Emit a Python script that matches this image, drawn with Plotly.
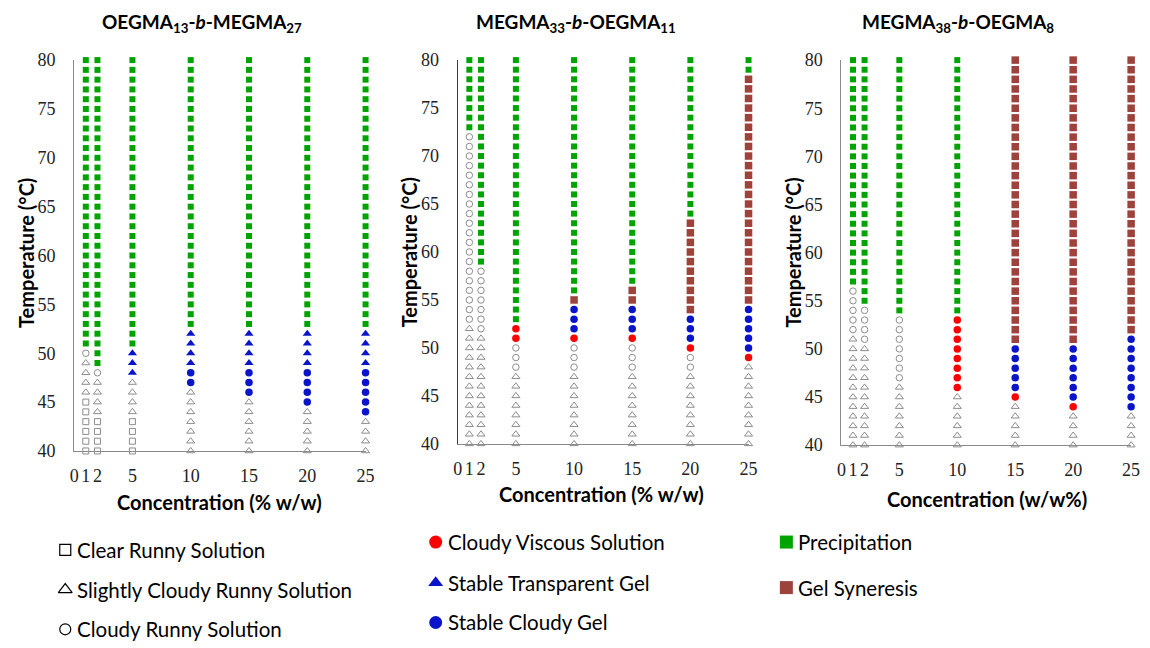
import plotly.graph_objects as go

# ---------------- data ----------------
concentrations = [1, 2, 5, 10, 15, 20, 25]
x_tick_vals = [0, 1, 2, 5, 10, 15, 20, 25]
x_tick_text = ["0", "1", "2", "5", "10", "15", "20", "25"]
y_tick_vals = [40, 45, 50, 55, 60, 65, 70, 75, 80]

panel_titles = [
    "OEGMA<sub>13</sub>-<i>b</i>-MEGMA<sub>27</sub>",
    "MEGMA<sub>33</sub>-<i>b</i>-OEGMA<sub>11</sub>",
    "MEGMA<sub>38</sub>-<i>b</i>-OEGMA<sub>8</sub>",
]
x_titles = ["Concentration (% w/w)", "Concentration (% w/w)", "Concentration (w/w%)"]
y_title = "Temperature (°C)"

# (concentration, state, lowest °C, highest °C) observed at every 1 °C step
p1_segments = [
    (1, "clear", 40, 45), (1, "slight", 46, 49), (1, "cloudy", 50, 50), (1, "precip", 51, 80),
    (2, "clear", 40, 43), (2, "slight", 44, 47), (2, "cloudy", 48, 48), (2, "precip", 49, 80),
    (5, "clear", 40, 43), (5, "slight", 44, 47), (5, "tgel", 48, 50), (5, "precip", 51, 80),
    (10, "slight", 40, 46), (10, "cgel", 47, 48), (10, "tgel", 49, 52), (10, "precip", 53, 80),
    (15, "slight", 40, 45), (15, "cgel", 46, 48), (15, "tgel", 49, 52), (15, "precip", 53, 80),
    (20, "slight", 40, 44), (20, "cgel", 45, 48), (20, "tgel", 49, 52), (20, "precip", 53, 80),
    (25, "slight", 40, 43), (25, "cgel", 44, 48), (25, "tgel", 49, 52), (25, "precip", 53, 80),
]
p2_segments = [
    (1, "slight", 40, 52), (1, "cloudy", 53, 72), (1, "precip", 73, 80),
    (2, "slight", 40, 51), (2, "cloudy", 52, 58), (2, "precip", 59, 80),
    (5, "slight", 40, 47), (5, "cloudy", 48, 50), (5, "viscous", 51, 52), (5, "precip", 53, 80),
    (10, "slight", 40, 47), (10, "cloudy", 48, 50), (10, "viscous", 51, 51), (10, "cgel", 52, 54),
    (10, "syn", 55, 55), (10, "precip", 56, 80),
    (15, "slight", 40, 47), (15, "cloudy", 48, 50), (15, "viscous", 51, 51), (15, "cgel", 52, 54),
    (15, "syn", 55, 56), (15, "precip", 57, 80),
    (20, "slight", 40, 47), (20, "cloudy", 48, 49), (20, "viscous", 50, 50), (20, "cgel", 51, 53),
    (20, "syn", 54, 63), (20, "precip", 64, 80),
    (25, "slight", 40, 48), (25, "viscous", 49, 49), (25, "cgel", 50, 54), (25, "syn", 55, 78),
    (25, "precip", 79, 80),
]
p3_segments = [
    (1, "slight", 40, 51), (1, "cloudy", 52, 56), (1, "precip", 57, 80),
    (2, "slight", 40, 50), (2, "cloudy", 51, 54), (2, "precip", 55, 80),
    (5, "slight", 40, 46), (5, "cloudy", 47, 53), (5, "precip", 54, 80),
    (10, "slight", 40, 45), (10, "viscous", 46, 53), (10, "precip", 54, 80),
    (15, "slight", 40, 44), (15, "viscous", 45, 45), (15, "cgel", 46, 50), (15, "syn", 51, 80),
    (20, "slight", 40, 43), (20, "viscous", 44, 44), (20, "cgel", 45, 50), (20, "syn", 51, 80),
    (25, "slight", 40, 43), (25, "cgel", 44, 51), (25, "syn", 52, 80),
]

state_order = ["clear", "slight", "cloudy", "viscous", "tgel", "cgel", "precip", "syn"]
state_labels = {
    "clear": "Clear Runny Solution",
    "slight": "Slightly Cloudy Runny Solution",
    "cloudy": "Cloudy Runny Solution",
    "viscous": "Cloudy Viscous Solution",
    "tgel": "Stable Transparent Gel",
    "cgel": "Stable Cloudy Gel",
    "precip": "Precipitation",
    "syn": "Gel Syneresis",
}

# ---------------- styles ----------------
GREY = "#8c8c8c"
styles = {
    "clear": dict(symbol="square-open", size=6, color=GREY, line=dict(width=1, color=GREY)),
    "slight": dict(symbol="triangle-up-open", size=7, color=GREY, line=dict(width=1, color=GREY)),
    "cloudy": dict(symbol="circle-open", size=6.5, color=GREY, line=dict(width=1, color=GREY)),
    "viscous": dict(symbol="circle", size=7.5, color="#ff0000", line=dict(width=0)),
    "tgel": dict(symbol="triangle-up", size=8, color="#0a14c8", line=dict(width=0)),
    "cgel": dict(symbol="circle", size=7.5, color="#0a14c8", line=dict(width=0)),
    "precip": dict(symbol="square", size=6, color="#00a400", line=dict(width=0)),
    "syn": dict(symbol="square", size=7.5, color="#9e423c", line=dict(width=0)),
}

fig = go.Figure()

all_segments = [p1_segments, p2_segments, p3_segments]
for pi, segs in enumerate(all_segments):
    xa = "x" if pi == 0 else f"x{pi+1}"
    ya = "y" if pi == 0 else f"y{pi+1}"
    for st in state_order:
        xs, ys = [], []
        for (c, s, lo, hi) in segs:
            if s == st:
                for t in range(lo, hi + 1):
                    xs.append(c)
                    ys.append(t)
        if xs:
            fig.add_trace(go.Scatter(
                x=xs, y=ys, mode="markers", xaxis=xa, yaxis=ya,
                marker=styles[st], cliponaxis=False, showlegend=False,
                name=state_labels[st], hoverinfo="x+y+name"))

W, H = 1150, 648
# plot-area pixel boxes (left, right, top, bottom)
boxes = [(70, 365, 51.7, 455), (458.3, 752.7, 51.7, 447.7), (846.7, 1140, 51.7, 449)]
yline_colors = ["#8a8a8a", "#3c3c3c", "#8a8a8a"]

tick_font = dict(family="Liberation Serif, Times New Roman, serif", size=18, color="#222222")
layout = dict(width=W, height=H, margin=dict(l=0, r=0, t=0, b=0),
              plot_bgcolor="rgba(0,0,0,0)", paper_bgcolor="white", showlegend=False)
for i, (l, r, t, b) in enumerate(boxes):
    sx = "" if i == 0 else str(i + 1)
    layout["xaxis" + sx] = dict(
        domain=[l / W, r / W], range=[0, 25], anchor="y" + sx,
        tickvals=x_tick_vals, ticktext=x_tick_text, showgrid=False, zeroline=False,
        showline=True, linecolor="#8a8a8a", linewidth=1.3, ticks="",
        tickfont=tick_font, ticklabelstandoff=8, fixedrange=True)
    layout["yaxis" + sx] = dict(
        domain=[1 - b / H, 1 - t / H], range=[40, 80], anchor="x" + sx,
        tickvals=y_tick_vals, showgrid=False, zeroline=False,
        showline=True, linecolor=yline_colors[i], linewidth=1.3, ticks="",
        tickfont=tick_font, ticklabelstandoff=14, fixedrange=True)

# hidden overlay axis in pixel units for the legend symbols
layout["xaxis4"] = dict(domain=[0, 1], range=[0, W], visible=False, anchor="y4", fixedrange=True)
layout["yaxis4"] = dict(domain=[0, 1], range=[H, 0], visible=False, anchor="x4", fixedrange=True)
fig.update_layout(**layout)

TXT = "Lato, Open Sans, sans-serif"
annotations = []
title_x = [199, 578, 965]
xt_pos = [(217, 508), (604, 499), (994, 505)]
yt_pos = [(22, 251), (409, 250), (798, 250)]
for i in range(3):
    annotations.append(dict(text="<b>" + panel_titles[i] + "</b>", x=title_x[i] / W,
                            y=1, xref="paper", yref="paper", yshift=2,
                            showarrow=False, xanchor="center", yanchor="top",
                            font=dict(family=TXT, size=19, color="black")))
    annotations.append(dict(text="<b>" + x_titles[i] + "</b>", x=xt_pos[i][0] / W,
                            y=1 - xt_pos[i][1] / H, xref="paper", yref="paper",
                            showarrow=False, xanchor="center", yanchor="middle",
                            font=dict(family=TXT, size=20, color="black")))
    annotations.append(dict(text="<b>" + y_title + "</b>", x=yt_pos[i][0] / W,
                            y=1 - yt_pos[i][1] / H, xref="paper", yref="paper",
                            showarrow=False, xanchor="center", yanchor="middle", textangle=-90,
                            font=dict(family=TXT, size=20, color="black")))

# legend (symbol position, text start) in pixels
legend_items = [
    ("clear", 61, 557), ("slight", 61, 598), ("cloudy", 61, 639),
    ("viscous", 436, 549), ("tgel", 436, 591), ("cgel", 436, 632),
    ("precip", 791, 549), ("syn", 791, 596),
]
legend_marker = {
    "clear": dict(symbol="square-open", size=11, color="black", line=dict(width=1.2, color="black")),
    "slight": dict(symbol="triangle-up-open", size=12, color="black", line=dict(width=1.2, color="black")),
    "cloudy": dict(symbol="circle-open", size=11, color="black", line=dict(width=1.2, color="black")),
    "viscous": dict(symbol="circle", size=13, color="#ff0000", line=dict(width=0)),
    "tgel": dict(symbol="triangle-up", size=13, color="#0a14c8", line=dict(width=0)),
    "cgel": dict(symbol="circle", size=13, color="#0a14c8", line=dict(width=0)),
    "precip": dict(symbol="square", size=13, color="#00a400", line=dict(width=0)),
    "syn": dict(symbol="square", size=13, color="#9e423c", line=dict(width=0)),
}
for st, px, py in legend_items:
    fig.add_trace(go.Scatter(x=[px], y=[py], mode="markers", xaxis="x4", yaxis="y4",
                             marker=legend_marker[st], cliponaxis=False, showlegend=False,
                             hoverinfo="skip"))
    annotations.append(dict(text=state_labels[st], x=(px + 10) / W, y=1 - py / H,
                            xref="paper", yref="paper", showarrow=False,
                            xanchor="left", yanchor="middle",
                            font=dict(family=TXT, size=20.5, color="black")))

fig.update_layout(annotations=annotations)
fig.write_html("out.html")
